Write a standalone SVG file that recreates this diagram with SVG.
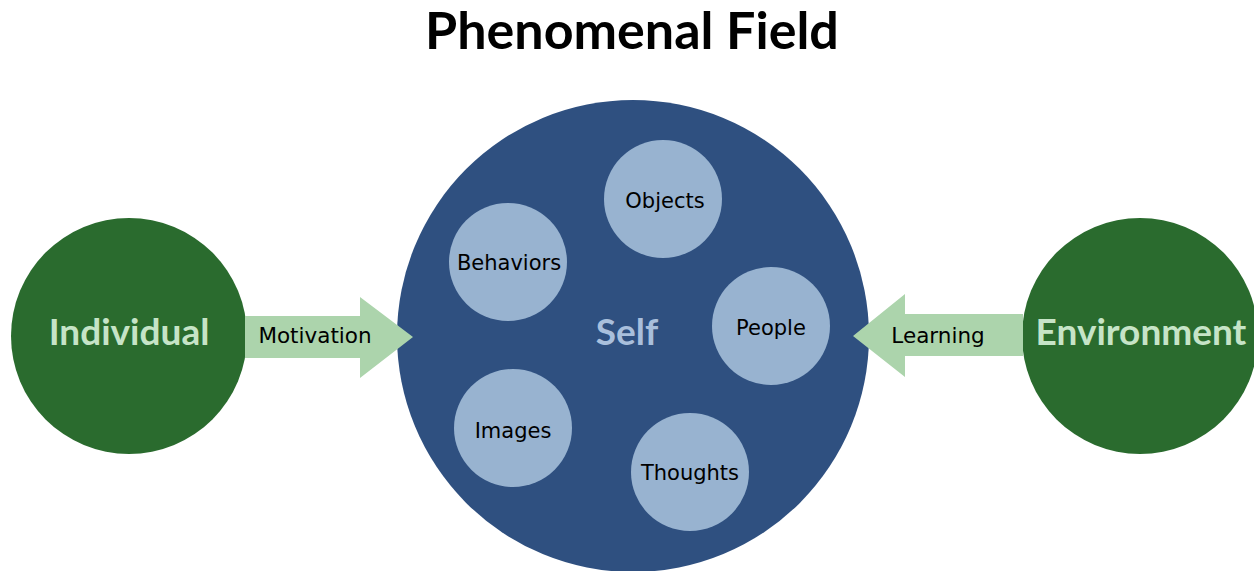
<svg xmlns="http://www.w3.org/2000/svg" width="1254" height="571" viewBox="0 0 1254 571">
<style>
.title{font-family:Lato,"Liberation Sans",sans-serif;font-weight:700;font-size:52px;fill:#000;text-anchor:middle}
.big{fill:#2a6b2e}
.bigtxt{font-family:Lato,"Liberation Sans",sans-serif;font-weight:700;font-size:37px;fill:#c6e4c7;text-anchor:middle}
.self{fill:#2f5080}
.selftxt{font-family:Lato,"Liberation Sans",sans-serif;font-weight:700;font-size:37px;fill:#a9bfdc;text-anchor:middle}
.sub{fill:#98b3d0}
.subtxt{font-family:"DejaVu Sans",sans-serif;font-size:21px;fill:#000;text-anchor:middle}
.arrow{fill:#acd4ac}
.arrtxt{font-family:"DejaVu Sans",sans-serif;font-size:21.5px;fill:#000;text-anchor:middle}
</style>
<rect width="1254" height="571" fill="#fff"/>
<text class="title" x="632" y="49">Phenomenal Field</text>
<g id="self">
<circle class="self" cx="633" cy="336" r="236"/>
<text class="selftxt" x="627" y="345">Self</text>
</g>
<g id="objects"><circle class="sub" cx="663" cy="199" r="59"/><text class="subtxt" x="665" y="208">Objects</text></g>
<g id="behaviors"><circle class="sub" cx="508" cy="262" r="59"/><text class="subtxt" x="509" y="270">Behaviors</text></g>
<g id="people"><circle class="sub" cx="771" cy="326" r="59"/><text class="subtxt" x="771" y="335">People</text></g>
<g id="images"><circle class="sub" cx="513" cy="428" r="59"/><text class="subtxt" x="513" y="438">Images</text></g>
<g id="thoughts"><circle class="sub" cx="690" cy="472" r="59"/><text class="subtxt" x="690" y="480">Thoughts</text></g>
<g id="individual">
<circle class="big" cx="129" cy="336" r="118"/>
<text class="bigtxt" x="129" y="345">Individual</text>
</g>
<g id="environment">
<circle class="big" cx="1140" cy="336" r="118"/>
<text class="bigtxt" x="1141" y="345">Environment</text>
</g>
<g id="connectors">
<polygon class="arrow" points="245,316 360,316 360,297 413,337 360,378 360,358 245,358"/>
<text class="arrtxt" x="315" y="343">Motivation</text>
<polygon class="arrow" points="1023,314 905,314 905,294 853,336 905,377 905,356 1023,356"/>
<text class="arrtxt" x="938" y="343">Learning</text>
</g>
</svg>
